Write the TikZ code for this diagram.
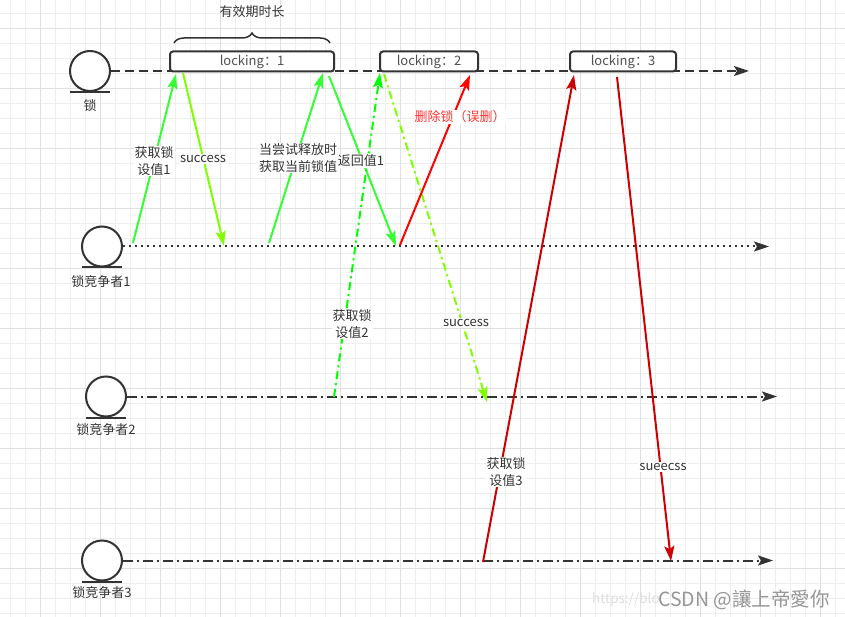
\documentclass[tikz,border=0pt]{standalone}
\usepackage{fontspec}
\setmainfont{Noto Sans CJK SC}
\usetikzlibrary{arrows.meta,decorations.pathreplacing}
\definecolor{minorg}{RGB}{238,238,238}
\definecolor{majorg}{RGB}{224,224,224}
\definecolor{dk}{RGB}{51,51,51}
\definecolor{txt}{RGB}{51,51,51}
\definecolor{boxtxt}{RGB}{80,80,80}
\definecolor{grn}{RGB}{51,255,51}
\definecolor{grnb}{RGB}{0,255,0}
\definecolor{chart}{RGB}{128,255,0}
\definecolor{rd}{RGB}{255,0,0}
\definecolor{drd}{RGB}{204,0,0}
\definecolor{lblred}{RGB}{255,51,51}
\definecolor{wmark}{RGB}{150,150,150}
\definecolor{wmarkl}{RGB}{222,222,222}
\tikzset{
  every node/.style={font=\fontsize{13}{16.5}\selectfont, text=txt},
  actor/.style={circle, draw=dk, line width=2pt, fill=white, minimum size=40pt, inner sep=0pt},
  actorbase/.style={draw=dk, line width=2pt},
  lockbox/.style={draw=dk, line width=2pt, rounded corners=3pt, fill=white, minimum height=20pt, inner sep=0pt, text=boxtxt},
  lbl/.style={fill=white, inner sep=1pt, align=center},
  tip/.style={-{Stealth[length=15pt,width=10pt,inset=3pt]}},
  arr/.style={line width=2pt, tip},
  tl/.style={draw=dk, line width=2pt, tip},
  tldash/.style={tl, dash pattern=on 9pt off 5pt},
  tldot/.style={tl, dash pattern=on 2pt off 4pt},
  tldashdot/.style={tl, dash pattern=on 10pt off 4pt on 2pt off 4pt},
  arrdd/.style={arr, dash pattern=on 8pt off 4pt on 2pt off 4pt},
  minorline/.style={draw=minorg, line width=1pt},
  majorline/.style={draw=majorg, line width=1pt},
}
\begin{document}
\begin{tikzpicture}[x=1pt,y=-1pt]
\useasboundingbox (0,0) rectangle (845,617);
\fill[white] (0,0) rectangle (845,617);
% grid
\foreach \i in {0,...,55} \draw[minorline] (10+15*\i,0) -- (10+15*\i,617);
\foreach \j in {0,...,40} \draw[minorline] (0,13.3+15*\j) -- (845,13.3+15*\j);
\foreach \i in {0,...,13} \draw[majorline] (40+60*\i,0) -- (40+60*\i,617);
\foreach \j in {0,...,9} \draw[majorline] (0,28.3+60*\j) -- (845,28.3+60*\j);

% actors
\node[actor] (lock) at (90,71) {};
\node[actor] (c1) at (102,246.5) {};
\node[actor] (c2) at (106,396.5) {};
\node[actor] (c3) at (102,560.5) {};
\foreach \a in {lock,c1,c2,c3}
  \draw[actorbase] ([xshift=-20pt]\a.south) -- ([xshift=20pt]\a.south);
\node (locklbl) at (90,106) {锁};
\node (c1lbl) at (101,282) {锁竞争者1};
\node (c2lbl) at (106,430) {锁竞争者2};
\node (c3lbl) at (102,593) {锁竞争者3};

% timelines
\coordinate (lockend) at (749,71);
\coordinate (c1end) at (769,246.5);
\coordinate (c2end) at (777,396.5);
\coordinate (c3end) at (773,560.5);
\draw[tldash] (lock.east) -- (lockend);
\draw[tldot] (c1.east) -- (c1end);
\draw[tldashdot] (c2.east) -- (c2end);
\draw[tldashdot] (c3.east) -- (c3end);

% lock boxes
\node[lockbox, minimum width=164pt] (box1) at (252,61.5) {locking：1};
\node[lockbox, minimum width=98pt] (box2) at (429,61.5) {locking：2};
\node[lockbox, minimum width=106pt] (box3) at (623,61.5) {locking：3};

% brace
\coordinate (brl) at (174,43);
\coordinate (brr) at (330,43);
\draw[dk, line width=1.5pt, decorate, decoration={brace, amplitude=10pt}] (brl) -- (brr);
\node (brlbl) at (252,12) {有效期时长};

% arrow end points
\coordinate (a1s) at (133,243); \coordinate (a1e) at (176,74);
\coordinate (a2s) at (183,73);  \coordinate (a2e) at (224,246);
\coordinate (a3s) at (269,243); \coordinate (a3e) at (323,73);
\coordinate (a4s) at (329,76);  \coordinate (a4e) at (396,246);
\coordinate (a5s) at (334,397); \coordinate (a5e) at (380,73);
\coordinate (a6s) at (384,74);  \coordinate (a6e) at (487,402);
\coordinate (a7s) at (400,245); \coordinate (a7e) at (470,75);
\coordinate (a8s) at (483,562); \coordinate (a8e) at (574,75);
\coordinate (a9s) at (617,77);  \coordinate (a9e) at (671,561);

\draw[arr, draw=grn, fill=grn] (a1s) -- (a1e);
\draw[arr, draw=chart, fill=chart] (a2s) -- (a2e);
\draw[arr, draw=grn, fill=grn] (a3s) -- (a3e);
\draw[arr, draw=grn, fill=grn] (a4s) -- (a4e);
\draw[arrdd, draw=grnb, fill=grnb] (a5s) -- (a5e);
\draw[arrdd, draw=chart, fill=chart] (a6s) -- (a6e);
\draw[arr, draw=rd, fill=rd] (a7s) -- (a7e);
\draw[arr, draw=drd, fill=drd] (a8s) -- (a8e);
\draw[arr, draw=drd, fill=drd] (a9s) -- (a9e);

% labels
\node[lbl] (l1) at (154,161) {获取锁\\设值1};
\node[lbl] (l2) at (203,159) {success};
\node[lbl] (l3) at (298,158) {当尝试释放时\\获取当前锁值};
\node[lbl] (l4) at (361,161) {返回值1};
\node[lbl] (l5) at (352,324) {获取锁\\设值2};
\node[lbl] (l6) at (466,323) {success};
\node[lbl, text=lblred] (l7) at (460,117) {删除锁（误删）};
\node[lbl] (l8) at (506,472) {获取锁\\设值3};
\node[lbl] (l9) at (663,467) {sueecss};

% watermark
\node[anchor=west, text=wmarkl, font=\fontsize{13.5}{16}\selectfont, inner sep=0pt] (wm1) at (592,600) {https://blo};
\node[anchor=west, text=wmark, font=\fontsize{19.5}{22}\selectfont, inner sep=0pt] (wm2) at (658,600) {CSDN @讓上帝愛你};
\end{tikzpicture}
\end{document}
